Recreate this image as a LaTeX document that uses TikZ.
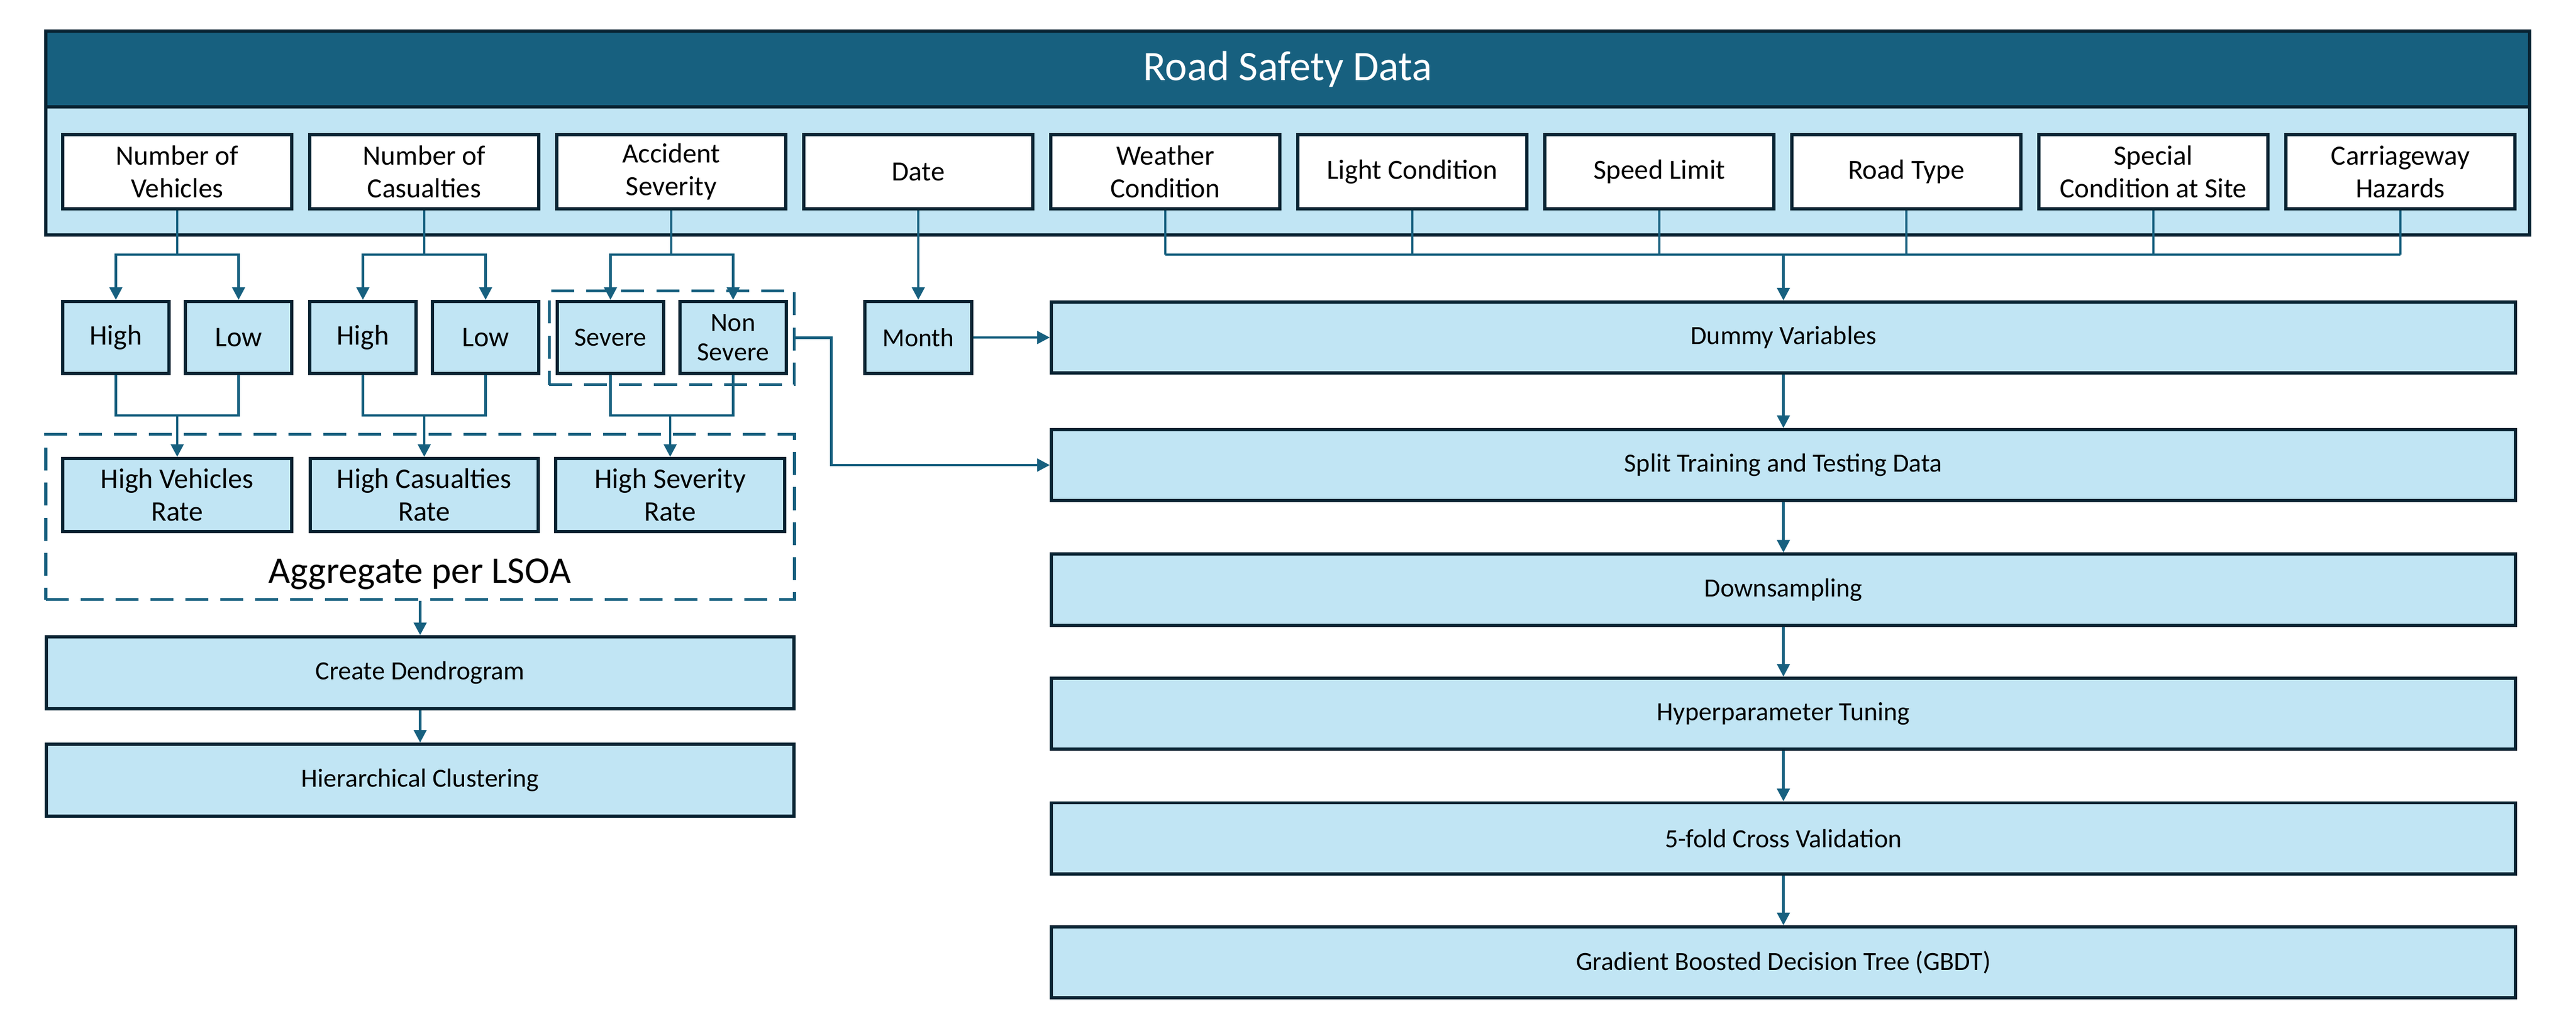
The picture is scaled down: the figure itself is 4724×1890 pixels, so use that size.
\documentclass[tikz,border=0pt]{standalone}
\usepackage{fontspec}
\setmainfont{Carlito}
\usetikzlibrary{arrows.meta,calc}
\definecolor{hdr}{HTML}{17607F}
\definecolor{bd}{HTML}{082332}
\definecolor{lb}{HTML}{C1E5F4}
\definecolor{cn}{HTML}{17607F}
\begin{document}
\begin{tikzpicture}[x=0.01cm,y=-0.01cm,
  box/.style={draw=bd,line width=1.7pt,inner sep=0pt,align=center,text=black},
  wbox/.style={box,fill=white,minimum width=4.20cm,minimum height=1.36cm,font=\fontsize{14.5}{17.1}\selectfont},
  sbox/.style={box,fill=lb,minimum width=1.95cm,minimum height=1.32cm,font=\fontsize{14.8}{17.1}\selectfont},
  svbox/.style={sbox,font=\fontsize{13.7}{15.4}\selectfont},
  rbox/.style={box,fill=lb,minimum width=4.20cm,minimum height=1.34cm,font=\fontsize{14.8}{17.1}\selectfont},
  fbox/.style={box,fill=lb,minimum width=26.83cm,minimum height=1.30cm,font=\fontsize{13.66}{16}\selectfont},
  lbox/.style={box,fill=lb,minimum width=13.71cm,minimum height=1.32cm,font=\fontsize{13.66}{16}\selectfont},
  dbox/.style={draw=cn,line width=1.5pt,dash pattern=on 0.42cm off 0.22cm,inner sep=0pt},
  conn/.style={draw=cn,line width=1.3pt},
  arr/.style={conn,-{Triangle[length=0.23cm,width=0.23cm]}},
]
\useasboundingbox (0,0) rectangle (4724,1890);
% header
\node[draw=bd,line width=1.7pt,fill=lb,minimum width=45.53cm,minimum height=3.74cm,inner sep=0pt] (band) at (2361.5,244) {};
\node[draw=bd,line width=1.7pt,fill=hdr,minimum width=45.53cm,minimum height=1.39cm,inner sep=0pt,text=white,font=\fontsize{21.9}{26}\selectfont] (title) at (2361.5,126.5) {Road Safety Data};
% top row
\node[wbox] (b1) at (325,315) {Number of\\Vehicles};
\node[wbox] (b2) at (778,315) {Number of\\Casualties};
\node[wbox] (b3) at (1231,315) {Accident\\Severity};
\node[wbox] (b4) at (1684,315) {Date};
\node[wbox] (b5) at (2137,315) {Weather\\Condition};
\node[wbox] (b6) at (2590,315) {Light Condition};
\node[wbox] (b7) at (3043,315) {Speed Limit};
\node[wbox] (b8) at (3496,315) {Road Type};
\node[wbox] (b9) at (3949,315) {Special\\Condition at Site};
\node[wbox] (b10) at (4402,315) {Carriageway\\Hazards};
% second row
\node[sbox] (h1) at (212.5,619) {High};
\node[sbox] (l1) at (437.5,619) {Low};
\node[sbox] (h2) at (665.5,619) {High};
\node[sbox] (l2) at (890.5,619) {Low};
\node[svbox] (sev) at (1119.5,619) {Severe};
\node[svbox] (nsev) at (1344.5,619) {Non\\Severe};
\node[dbox,minimum width=4.49cm,minimum height=1.72cm] (sevgrp) at (1232,619.5) {};
\node[sbox,font=\fontsize{13.5}{16}\selectfont] (month) at (1684,619) {Month};
% aggregate
\node[dbox,minimum width=13.72cm,minimum height=3.03cm] (agg) at (770.5,948) {};
\node[rbox] (hv) at (325,908) {High Vehicles\\Rate};
\node[rbox,minimum width=4.18cm] (hcas) at (778,908) {High Casualties\\Rate};
\node[rbox] (hs) at (1229,908) {High Severity\\Rate};
\node[font=\fontsize{19.6}{23}\selectfont,anchor=base,inner sep=0pt] (agglbl) at (770,1069) {Aggregate per LSOA};
\node[lbox] (cd) at (770.5,1234) {Create Dendrogram};
\node[lbox] (hc) at (770.5,1431) {Hierarchical Clustering};
% right column
\node[fbox] (dummy) at (3270.5,619) {Dummy Variables};
\node[fbox] (split) at (3270.5,853) {Split Training and Testing Data};
\node[fbox] (down) at (3270.5,1081.5) {Downsampling};
\node[fbox] (hyp) at (3270.5,1309) {Hyperparameter Tuning};
\node[fbox] (cv) at (3270.5,1537.5) {5-fold Cross Validation};
\node[fbox] (gbdt) at (3270.5,1765) {Gradient Boosted Decision Tree (GBDT)};
% connectors: split into high/low
\foreach \p/\a/\b in {b1/h1/l1,b2/h2/l2,b3/sev/nsev}{
  \draw[conn] (\p.south) -- (\p.south |- 0,467);
  \draw[arr] (\p.south |- 0,467) -| (\a.north);
  \draw[arr] (\p.south |- 0,467) -| (\b.north);
}
% merge into rates
\foreach \a/\b/\r in {h1/l1/hv,h2/l2/hcas,sev/nsev/hs}{
  \draw[conn] (\a.south) -- (\a.south |- 0,762) -- (\b.south |- 0,762) -- (\b.south);
  \draw[arr] (\r.north |- 0,762) -- (\r.north);
}
\draw[arr] (agg.south) -- (cd.north);
\draw[arr] (cd.south) -- (hc.north);
% date / month
\draw[arr] (b4.south) -- (month.north);
\draw[arr] (month.east) -- (dummy.west);
% severity to split
\draw[arr] (sevgrp.east) -- ++(65,0) |- (split.west);
% collector
\foreach \p in {b5,b6,b7,b8,b9,b10}{
  \draw[conn] (\p.south) -- (\p.south |- 0,467);
}
\draw[conn] (b5.south |- 0,467) -- (b10.south |- 0,467);
\draw[arr] (dummy.north |- 0,467) -- (dummy.north);
% flow
\draw[arr] (dummy.south) -- (split.north);
\draw[arr] (split.south) -- (down.north);
\draw[arr] (down.south) -- (hyp.north);
\draw[arr] (hyp.south) -- (cv.north);
\draw[arr] (cv.south) -- (gbdt.north);
\end{tikzpicture}
\end{document}
